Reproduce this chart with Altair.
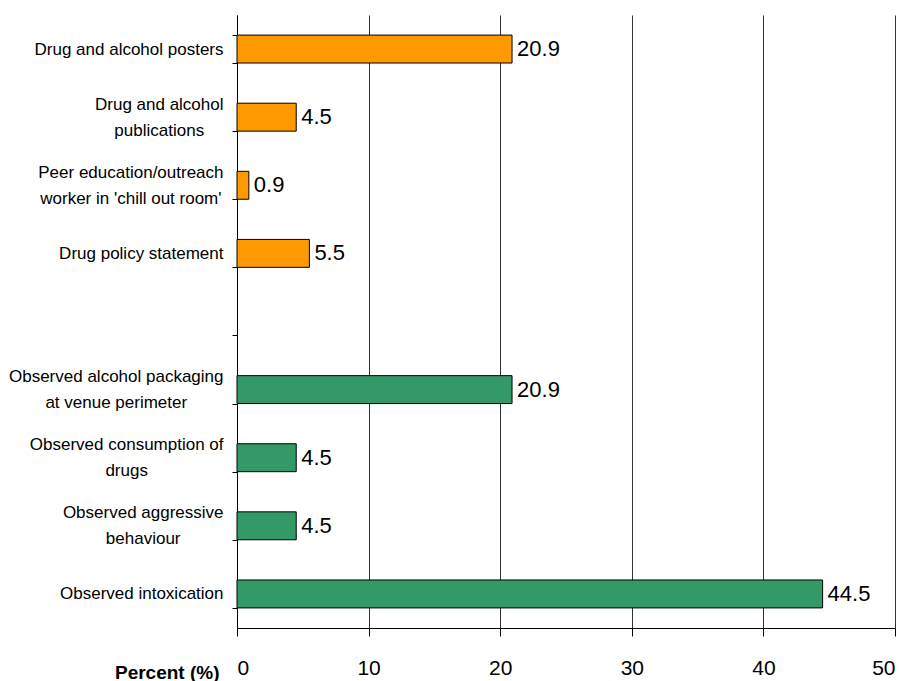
import json
import altair as alt
import pandas as pd

categories = [
    "Drug and alcohol posters",
    "Drug and alcohol|publications",
    "Peer education/outreach|worker in 'chill out room'",
    "Drug policy statement",
    " ",
    "Observed alcohol packaging|at venue perimeter",
    "Observed consumption of|drugs",
    "Observed aggressive|behaviour",
    "Observed intoxication",
]
values = [20.9, 4.5, 0.9, 5.5, None, 20.9, 4.5, 4.5, 44.5]
groups = ["venue", "venue", "venue", "venue", "blank", "obs", "obs", "obs", "obs"]
colors = {"venue": "#FF9900", "obs": "#339966"}

df = pd.DataFrame({"cat": categories, "val": values, "grp": groups})
df = df[df["grp"] != "blank"]

FONT = "Liberation Sans, Arial, sans-serif"
LABEL_SIZE = 17
LINE_H = 26

# Arial / Liberation Sans advance widths (1/1000 em), used to centre
# the lines of each multi-line label inside its right-aligned block.
_W = {" ": 278, "'": 191, "/": 278, ".": 278, "D": 722, "O": 778, "P": 667,
      "a": 556, "b": 556, "c": 500, "d": 556, "e": 556, "f": 278, "g": 556,
      "h": 556, "i": 222, "j": 222, "k": 500, "l": 222, "m": 833, "n": 556,
      "o": 556, "p": 556, "q": 556, "r": 333, "s": 500, "t": 278, "u": 556,
      "v": 500, "w": 722, "x": 500, "y": 500, "z": 500}


def text_width(s, size):
    return sum(_W.get(ch, 556) for ch in s) * size / 1000.0


GAP = 9
pad_conds = []
off_conds = []
for c in categories:
    lines = c.split("|")
    w = max(text_width(line, LABEL_SIZE) for line in lines)
    test = "datum.value === " + json.dumps(c)
    pad_conds.append({"test": test, "value": GAP + w / 2.0})
    if len(lines) > 1:
        off_conds.append({"test": test, "value": -(len(lines) - 1) * LINE_H / 2.0})

y_enc = alt.Y(
    "cat:N",
    sort=categories,
    scale=alt.Scale(domain=categories, paddingInner=0.59, paddingOuter=0.295),
    axis=alt.Axis(
        title=None,
        labelExpr="split(datum.label, '|')",
        labelFont=FONT,
        labelFontSize=LABEL_SIZE,
        labelColor="#000000",
        labelLineHeight=LINE_H,
        labelAlign="center",
        labelPadding={"condition": pad_conds, "value": GAP},
        labelOffset={"condition": off_conds, "value": 0},
        labelLimit=0,
        tickBand="extent",
        tickSize=5,
        tickColor="#000000",
        domainColor="#000000",
        grid=False,
    ),
)

x_enc = alt.X(
    "val:Q",
    scale=alt.Scale(domain=[0, 50], nice=False),
    axis=alt.Axis(
        title="Percent (%)",
        values=[0, 10, 20, 30, 40, 50],
        labelFont=FONT,
        labelFontSize=21,
        labelColor="#000000",
        labelPadding=21,
        tickSize=8,
        tickColor="#000000",
        domainColor="#000000",
        grid=True,
        gridColor="#333333",
        gridWidth=1,
        titleFont=FONT,
        titleFontSize=19,
        titleFontWeight="bold",
        titleColor="#000000",
        titleX=-18,
        titleY=50,
        titleAlign="right",
        titleBaseline="alphabetic",
        titleAnchor="start",
    ),
)

bars = alt.Chart(df).mark_bar(stroke="#000000", strokeWidth=1).encode(
    x=x_enc,
    y=y_enc,
    color=alt.Color(
        "grp:N",
        scale=alt.Scale(domain=list(colors.keys()), range=list(colors.values())),
        legend=None,
    ),
)

labels = alt.Chart(df).mark_text(
    align="left", baseline="middle", dx=5, font=FONT, fontSize=22, color="#000000"
).encode(
    x="val:Q",
    y=alt.Y("cat:N", sort=categories),
    text=alt.Text("val:Q", format=".1f"),
)

chart = (
    alt.layer(bars, labels)
    .properties(
        width=658,
        height=613,
        autosize=alt.AutoSizeParams(type="none"),
        padding={"left": 237, "top": 15, "right": 14, "bottom": 53},
        background="#ffffff",
    )
    .configure_view(stroke=None)
)

chart.save("out.html", embed_options={"renderer": "svg", "actions": False})
